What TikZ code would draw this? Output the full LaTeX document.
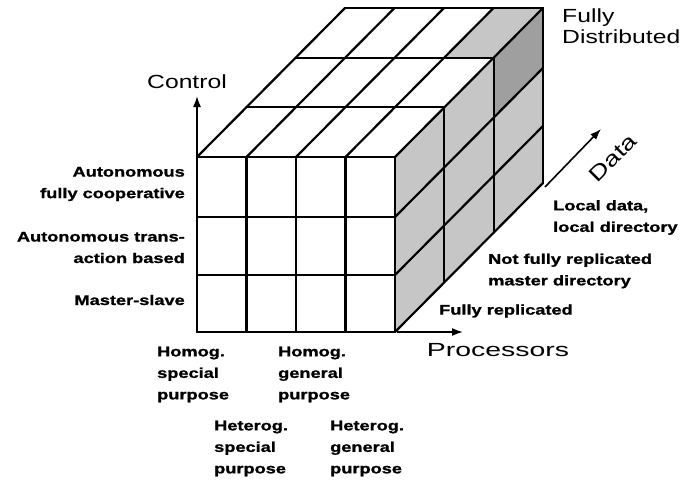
\documentclass[tikz,border=0pt]{standalone}
\usepackage{fontspec}
\setmainfont{Liberation Sans}[FakeStretch=1.3, BoldFeatures={FakeBold=1.2}]
\usetikzlibrary{arrows.meta}
\tikzset{
  grid/.style={line width=2.2pt, line join=round, line cap=round},
  axis/.style={line width=1.6pt, -{Latex[length=11pt,width=8pt]}},
  small/.style={font=\fontsize{14}{21.5}\selectfont\bfseries, inner sep=0pt},
  big/.style={font=\fontsize{19}{20.5}\selectfont, inner sep=0pt},
}
\begin{document}
\begin{tikzpicture}[x=1pt,y=-1pt]
\useasboundingbox (0,0) rectangle (682,482);
\def\dx{49.333}\def\dy{49.667}
% right face fill
\fill[gray!45] (395,157) -- (543,8) -- (543,183) -- (395,332) -- cycle;
% top shaded cell
\fill[gray!45] (444.3,57.7) -- (493.7,57.7) -- (543,8) -- (493.7,8) -- cycle;
% dark cell
\fill[gray!75] (493.7,57.7) -- (543,8) -- (543,68) -- (493.7,117.7) -- cycle;
% front face grid
\foreach \x in {197,246.5,296,345.5,395} \draw[grid] (\x,157) -- (\x,332);
\foreach \y in {157,217,275,332} \draw[grid] (197,\y) -- (395,\y);
% top face
\foreach \k in {1,2,3} \draw[grid] ({197+\k*\dx},{157-\k*\dy}) -- ({395+\k*\dx},{157-\k*\dy});
\foreach \x in {197,246.5,296,345.5,395} \draw[grid] (\x,157) -- ({\x+148},8);
% right face
\foreach \k in {1,2,3} \draw[grid] ({395+\k*\dx},{157-\k*\dy}) -- ({395+\k*\dx},{332-\k*\dy});
\foreach \y in {217,275,332} \draw[grid] (395,\y) -- (543,{\y-149});
% axes
\coordinate (c0) at (197,157); \coordinate (c1) at (197,96);
\coordinate (p0) at (397,332); \coordinate (p1) at (463,332);
\coordinate (d0) at (545,187); \coordinate (d1) at (601,129);
\draw[axis] (c0) -- (c1);
\draw[axis] (p0) -- (p1);
\draw[axis] (d0) -- (d1);
% big labels
\node[big] (control) at (187,82) {Control};
\node[big] (proc) at (498,350) {\scalebox{1.15}[1]{Processors}};
\node[big, rotate=45] (data) at (613,158) {\scalebox{1.1}{Data}};
\node[big, anchor=west, align=left] (fd) at (562,26) {Fully\\Distributed};
% left labels
\node[small, anchor=east, align=right] (l1) at (185,184) {Autonomous\\fully cooperative};
\node[small, anchor=east, align=right] (l2) at (185,247.5) {Autonomous trans-\\action based};
\node[small, anchor=east, align=right] (l3) at (185,300) {Master-slave};
% bottom labels
\node[small, anchor=west, align=left] (b1) at (157,374.5) {Homog.\\special\\purpose};
\node[small, anchor=west, align=left] (b2) at (278,374.5) {Homog.\\general\\purpose};
\node[small, anchor=west, align=left] (b3) at (214,448.5) {Heterog.\\special\\purpose};
\node[small, anchor=west, align=left] (b4) at (330,448.5) {Heterog.\\general\\purpose};
% right labels
\node[small, anchor=west, align=left] (r1) at (553,217.5) {Local data,\\local directory};
\node[small, anchor=west, align=left] (r2) at (488,271) {Not fully replicated\\master directory};
\node[small, anchor=west, align=left] (r3) at (439,311) {Fully replicated};
\end{tikzpicture}
\end{document}
